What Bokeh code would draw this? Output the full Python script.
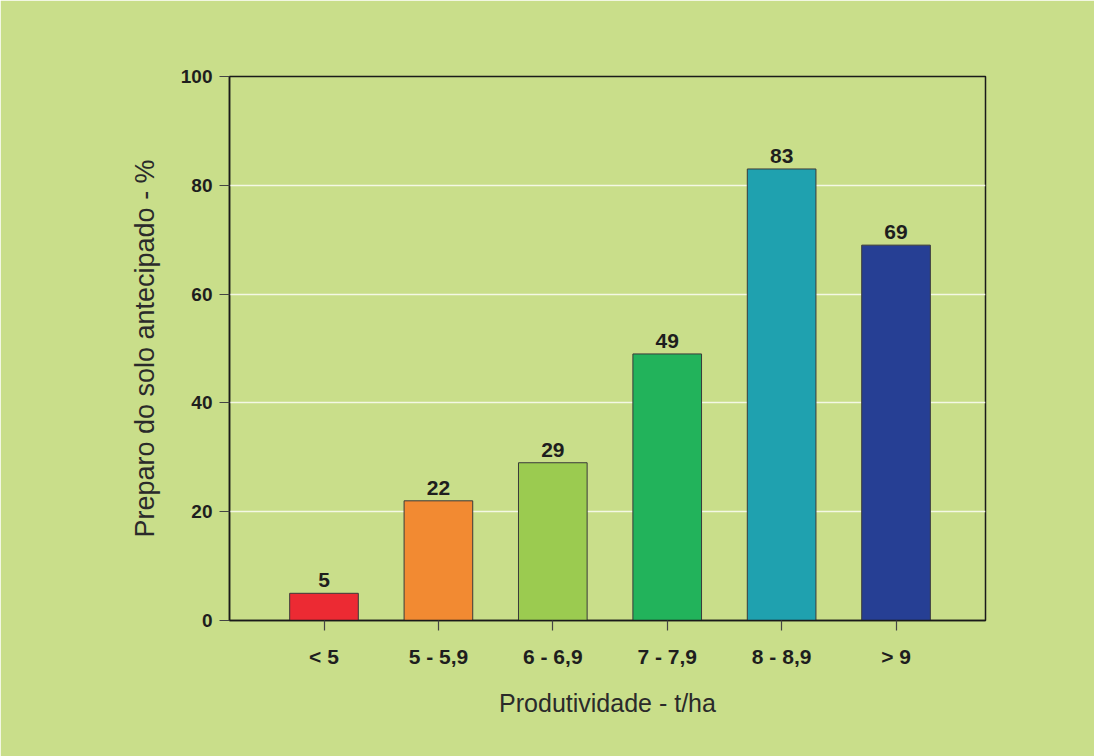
from bokeh.plotting import figure
from bokeh.models import ColumnDataSource, Range1d, FixedTicker
from bokeh.core.properties import value
from bokeh.embed import file_html
from bokeh.resources import INLINE

categories = ["< 5", "5 - 5,9", "6 - 6,9", "7 - 7,9", "8 - 8,9", "> 9"]
values = [5, 22, 29, 49, 83, 69]
colors = ["#EC2A33", "#F28A32", "#9BCB50", "#22B35B", "#1FA1AF", "#263F94"]
y_ticks = [0, 20, 40, 60, 80, 100]

BG = "#C9DE8A"
FONT = "Liberation Sans"

positions = list(range(1, len(categories) + 1))
labels = [str(v) for v in values]

src = ColumnDataSource(dict(x=positions, top=values, color=colors, label=labels))

p = figure(width=1094, height=756, output_backend="svg", toolbar_location=None,
           x_range=Range1d(0.174, 6.782), y_range=Range1d(0, 100),
           min_border_left=229, min_border_right=109, min_border_top=76, min_border_bottom=136)

p.background_fill_color = BG
p.border_fill_color = BG
p.outline_line_color = "#1a1a1a"
p.outline_line_width = 1.5

p.vbar(x="x", top="top", width=0.6, bottom=0, fill_color="color",
       line_color="#3a3a3a", line_width=1, source=src)

p.text(x="x", y="top", text="label", source=src, text_align="center",
       text_baseline="bottom", y_offset=-6, text_font=value(FONT),
       text_font_style="bold", text_font_size="21px", text_color="#1e1e1e")

# axes
p.xaxis.ticker = FixedTicker(ticks=positions)
p.xaxis.major_label_overrides = {pos: cat for pos, cat in zip(positions, categories)}
p.yaxis.ticker = FixedTicker(ticks=y_ticks)

for ax in (p.xaxis[0], p.yaxis[0]):
    ax.axis_line_color = "#1a1a1a"
    ax.axis_line_width = 1.5
    ax.major_tick_line_color = "#444444"
    ax.major_tick_line_width = 1.2
    ax.major_tick_out = 10
    ax.major_tick_in = 0
    ax.minor_tick_line_color = None
    ax.major_label_text_font = FONT
    ax.major_label_text_font_style = "bold"
    ax.major_label_text_color = "#1e1e1e"
    ax.axis_label_text_font = FONT
    ax.axis_label_text_font_style = "normal"
    ax.axis_label_text_color = "#2a2a2a"

p.yaxis.major_label_text_font_size = "19px"
p.yaxis.major_label_standoff = 7
p.yaxis.axis_label = "Preparo do solo antecipado - %"
p.yaxis.axis_label_text_font_size = "27px"
p.yaxis.axis_label_standoff = 18

p.xaxis.major_label_text_font_size = "21px"
p.xaxis.major_label_standoff = 14
p.xaxis.axis_label = "Produtividade - t/ha"
p.xaxis.axis_label_text_font_size = "25px"
p.xaxis.axis_label_standoff = 18

p.xgrid.grid_line_color = None
p.ygrid.grid_line_color = "#F4F8E4"
p.ygrid.grid_line_width = 1.5

open("out.html", "w").write(file_html(p, INLINE))
